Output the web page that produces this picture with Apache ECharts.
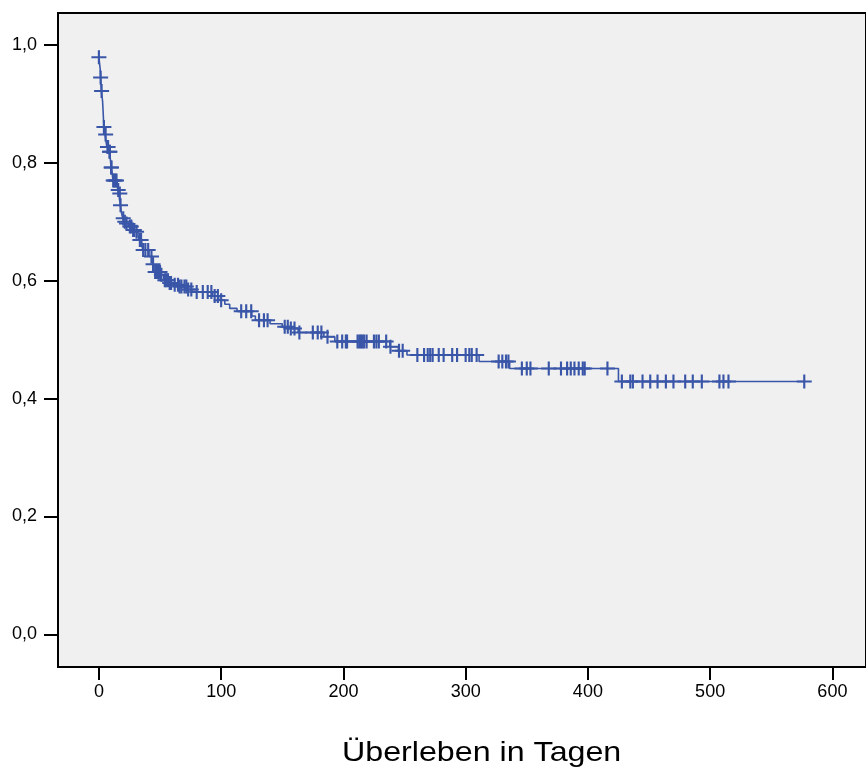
<!DOCTYPE html>
<html><head><meta charset="utf-8">
<script src="https://cdn.jsdelivr.net/npm/echarts@6/dist/echarts.min.js"></script>
<style>html,body{margin:0;padding:0;background:#fff}#c{width:866px;height:771px}</style>
</head><body><div id="c"></div>
<script>
// Kaplan-Meier step function: event times (days) and survival after each event
const eventTimes = [0, 1, 1.4, 2, 3, 3.5, 4, 5, 6.5, 8.5, 9.2, 10, 11, 11.5, 15, 15.5, 16.5, 17.5, 18.5, 19.5, 21, 22, 24, 27, 30, 32, 33, 35, 36, 41, 44, 44.5, 50.5, 53, 57, 61, 65, 73, 76, 93, 98, 103, 107, 113, 125, 128, 140, 150, 156, 163, 184, 193, 238, 245, 252, 311, 336, 425];
const survival = [0.979, 0.96, 0.945, 0.922, 0.905, 0.885, 0.861, 0.848, 0.827, 0.819, 0.810, 0.792, 0.780, 0.770, 0.760, 0.754, 0.748, 0.728, 0.715, 0.706, 0.700, 0.697, 0.692, 0.686, 0.683, 0.676, 0.669, 0.660, 0.652, 0.641, 0.628, 0.615, 0.610, 0.601, 0.596, 0.593, 0.590, 0.585, 0.581, 0.574, 0.567, 0.560, 0.553, 0.548, 0.540, 0.533, 0.527, 0.522, 0.519, 0.512, 0.505, 0.497, 0.488, 0.481, 0.474, 0.463, 0.451, 0.429];
const endTime = 577;
// censored observations (days)
const censorTimes = [0, 1.4, 2.2, 4.1, 5.5, 7, 7.5, 8.7, 9, 10, 10.3, 11.7, 12.5, 13.5, 14.4, 15.8, 17.1, 17.7, 19.9, 21.2, 22.6, 25.3, 26.5, 28, 29, 30.8, 33.5, 34.5, 36.2, 38, 40.3, 43, 44.3, 46, 47, 48.4, 50, 51.1, 53.9, 55, 56.5, 57.9, 59, 62, 64.7, 66, 67.5, 70, 71.5, 73, 75.6, 80, 85, 89, 92, 94.7, 97.3, 100, 116.4, 120.5, 124.6, 131, 135, 138, 152, 154.5, 157, 160, 164, 175, 179, 182, 187, 195, 199, 202, 203, 211.6, 213, 214.4, 215.7, 217, 219, 225, 227, 229, 235, 238.5, 245.5, 248.5, 260.5, 266, 269, 271, 273, 278, 282, 289, 293, 300, 303, 305, 309, 327, 330, 333, 335, 346, 350, 353, 368, 378, 383, 386, 389, 392.5, 395.8, 397.4, 416, 427.8, 434.7, 436.8, 444.7, 451, 457, 463.8, 470, 479.6, 485.8, 493.2, 507.6, 510.9, 515, 577];
const xTicks = [0, 100, 200, 300, 400, 500, 600];
const yTicks = [0, 0.2, 0.4, 0.6, 0.8, 1.0];
const xTitle = 'Überleben in Tagen';

function survAt(t) {
  let s = survival[0];
  for (let i = 0; i < eventTimes.length; i++) if (eventTimes[i] <= t) s = survival[i];
  return s;
}
const lineData = eventTimes.map((t, i) => [t, survival[i]]);
lineData.push([endTime, survival[survival.length - 1]]);
const censorData = censorTimes.map(t => [t, survAt(t)]);

const color = '#3a56a8';
const font = '"Liberation Sans", Arial, sans-serif';
const chart = echarts.init(document.getElementById('c'), null, {renderer: 'canvas'});
chart.setOption({
  animation: false,
  grid: {left: 58, top: 13, right: -2, bottom: 104, show: true, backgroundColor: '#f0f0f0', borderColor: '#000', borderWidth: 2},
  xAxis: {
    type: 'value', min: -33.46, max: 627.5, position: 'bottom',
    axisLine: {show: false, onZero: false},
    axisTick: {show: true, inside: false, length: 13, lineStyle: {color: '#000', width: 2}, customValues: xTicks},
    axisLabel: {customValues: xTicks, color: '#000', fontSize: 18, fontFamily: font, margin: 16},
    splitLine: {show: false}
  },
  yAxis: {
    type: 'value', min: -0.0555, max: 1.0543, position: 'left',
    axisLine: {show: false, onZero: false},
    axisTick: {show: true, inside: false, length: 14, lineStyle: {color: '#000', width: 2}, customValues: yTicks},
    axisLabel: {customValues: yTicks, color: '#000', fontSize: 18, fontFamily: font, margin: 21,
      formatter: v => v.toFixed(1).replace('.', ',')},
    splitLine: {show: false}
  },
  series: [
    {type: 'line', data: lineData, step: 'end', symbol: 'none', lineStyle: {color: color, width: 1.6}, silent: true},
    {type: 'scatter', data: censorData, symbol: 'path://M0,6H6V0H8V6H14V8H8V14H6V8H0Z', symbolSize: [15, 14],
      itemStyle: {color: color, opacity: 1}, silent: true}
  ],
  graphic: [{type: 'text', x: 342, y: 753.7, scaleX: 1.15, style: {text: xTitle, font: '28px ' + font, fill: '#000', verticalAlign: 'middle', align: 'left'}}]
});
</script></body></html>
